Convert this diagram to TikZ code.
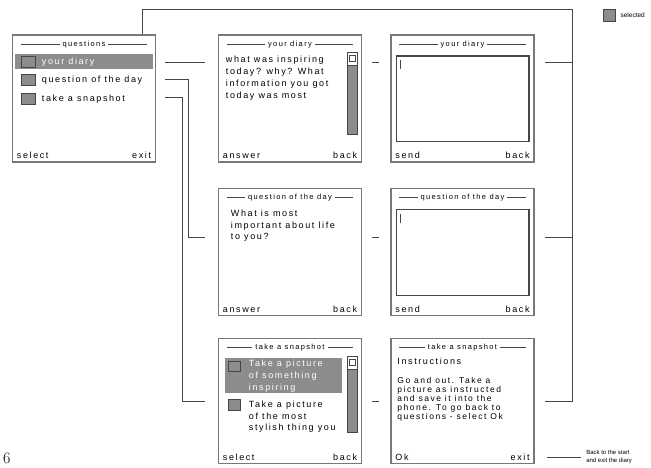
\documentclass[tikz,border=0pt]{standalone}
\usepackage{fontspec}
\newfontfamily\phonefont[LetterSpace=18]{Liberation Sans}
\newfontfamily\notefont{Liberation Sans}
\usetikzlibrary{positioning,calc}
\definecolor{scrframe}{RGB}{120,120,120}
\definecolor{scrfill}{RGB}{140,140,140}
\definecolor{scrline}{RGB}{70,70,70}

\begin{document}
\begin{tikzpicture}[x=1pt, y=-1pt,
  screen/.style={rectangle, draw=scrframe, line width=1.6pt, fill=white,
                 minimum width=143pt, minimum height=127pt, inner sep=0pt},
  ttl/.style={fill=white, inner xsep=3pt, inner ysep=1pt,
              font=\phonefont\fontsize{7.5}{8}\selectfont},
  body/.style={anchor=north west, align=left, inner sep=0pt,
               font=\phonefont\fontsize{9}{11.7}\selectfont},
  item/.style={anchor=west, inner sep=0pt, font=\phonefont\fontsize{9}{11}\selectfont},
  softkey/.style={inner sep=0pt, font=\phonefont\fontsize{9}{10}\selectfont},
  icon/.style={draw=scrline, fill=scrfill, line width=0.8pt},
  hibar/.style={fill=scrfill},
  field/.style={draw=scrline, line width=1.4pt},
  scrollbar/.style={draw=scrline, fill=scrfill, line width=0.8pt},
  link/.style={draw=scrline, line width=1pt}
]
\useasboundingbox (0,0) rectangle (651,468);

% Screens
\node[screen] (questions) at (84,98.5) {};
\node[screen] (diary)     at (290,98.5) {};
\node[screen] (diarysend) at (462.5,98.5) {};
\node[screen] (qday)      at (290,252) {};
\node[screen] (qdaysend)  at (462.5,252) {};
\node[screen, minimum height=125pt] (snap)     at (290,401) {};
\node[screen, minimum height=125pt] (snapinfo) at (462.5,401) {};

% Title rows and soft keys
\foreach \s/\t/\l/\r in {questions/questions/select/exit,
    diary/your diary/answer/back, diarysend/your diary/send/back,
    qday/question of the day/answer/back, qdaysend/question of the day/send/back,
    snap/take a snapshot/select/back, snapinfo/take a snapshot/Ok/exit}{
  \draw[link, line width=0.8pt] ($(\s.north west)+(9,10)$) -- ($(\s.north east)+(-9,10)$);
  \node[ttl] (\s-title) at ($(\s.north)+(0,10)$) {\t};
  \node[softkey, anchor=base west] (\s-left)  at ($(\s.south west)+(5,-4)$) {\l};
  \node[softkey, anchor=base east] (\s-right) at ($(\s.south east)+(-5,-4)$) {\r};
}

% questions menu
\begin{scope}
  \clip ($(questions.north west)+(1,1)$) rectangle ($(questions.south east)+(-1,-1)$);
  \fill[hibar] ($(questions.north west)+(3,20)$) rectangle ($(questions.north east)+(-3,35)$);
  \draw[icon] ($(questions.north west)+(10,22)$) rectangle ++(14,11);
  \node[item, text=white] (itemdiary) at ($(questions.north west)+(30,27.5)$) {your diary};
  \draw[icon] ($(questions.north west)+(10,40.5)$) rectangle ++(14,11);
  \node[item] (itemqday) at ($(questions.north west)+(30,46)$) {question of the day};
  \draw[icon] ($(questions.north west)+(10,59.5)$) rectangle ++(14,11);
  \node[item] (itemsnap) at ($(questions.north west)+(30,65)$) {take a snapshot};
\end{scope}

% your diary
\node[body] (diaryq) at ($(diary.north west)+(8,22)$)
  {what was inspiring\\today? why? What\\information you got\\today was most};
\draw[scrollbar] ($(diary.north east)+(-15,18)$) rectangle ($(diary.north east)+(-5,100)$);
\draw[scrline, fill=white, line width=0.8pt] ($(diary.north east)+(-15,18)$) rectangle ++(10,13);
\draw[scrline, line width=0.6pt] ($(diary.north east)+(-13,21)$) rectangle ++(6,6);

\draw[field] ($(diarysend.north west)+(6,22)$) rectangle ($(diarysend.south east)+(-6,-21)$);
\draw[scrline, line width=0.8pt] ($(diarysend.north west)+(10,26)$) -- ++(0,9);

% question of the day
\node[body] (qdayq) at ($(qday.north west)+(13,22)$)
  {What is most\\important about life\\to you?};

\draw[field] ($(qdaysend.north west)+(6,22)$) rectangle ($(qdaysend.south east)+(-6,-21)$);
\draw[scrline, line width=0.8pt] ($(qdaysend.north west)+(10,26)$) -- ++(0,9);

% take a snapshot
\fill[hibar] ($(snap.north west)+(7,20)$) rectangle ($(snap.north west)+(124,55)$);
\draw[icon] ($(snap.north west)+(11,24)$) rectangle ++(12,10);
\node[body, text=white] (snapone) at ($(snap.north west)+(31,22.5)$)
  {Take a picture\\of something\\inspiring};
\draw[icon] ($(snap.north west)+(11,62)$) rectangle ++(12,11);
\node[body] (snaptwo) at ($(snap.north west)+(31,63)$)
  {Take a picture\\of the most\\stylish thing you};
\draw[scrollbar] ($(snap.north east)+(-15,19)$) rectangle ($(snap.north east)+(-5,95)$);
\draw[scrline, fill=white, line width=0.8pt] ($(snap.north east)+(-15,19)$) rectangle ++(10,13);
\draw[scrline, line width=0.6pt] ($(snap.north east)+(-13,22)$) rectangle ++(6,6);

\node[body] (snaphead) at ($(snapinfo.north west)+(7,20)$) {Instructions};
\node[body, font=\phonefont\fontsize{8.5}{8.9}\selectfont] (snaptext)
  at ($(snapinfo.north west)+(7,39.5)$)
  {Go and out. Take a\\picture as instructed\\and save it into the\\phone. To go back to\\questions - select Ok};

% Connectors
\coordinate (diaryrow) at ($(questions.north east)+(0,28)$);
\coordinate (qdayrow)  at ($(questions.north east)+(0,45)$);
\coordinate (snaprow)  at ($(questions.north east)+(0,63)$);
\coordinate (qdayin)   at ($(qday.west)+(0,-15)$);
\coordinate (backbus)  at ($(diarysend.north east)+(38,-25)$);
\coordinate (backin)   at ($(questions.north east)+(-14,0)$);

\draw[link, shorten <=9pt, shorten >=13pt] (diaryrow) -- (diary.west |- diaryrow);
\draw[link, shorten <=9pt, shorten >=13pt] (qdayrow) -- ++(32,0) |- (qdayin);
\draw[link, shorten <=9pt, shorten >=13pt] (snaprow) -- ++(26,0) |- (snap.west);

\draw[link, shorten <=10pt, shorten >=11pt] (diary.east |- diaryrow) -- (diarysend.west |- diaryrow);
\draw[link, shorten <=10pt, shorten >=11pt] (qday.east |- qdayin) -- (qdaysend.west |- qdayin);
\draw[link, shorten <=10pt, shorten >=11pt] (snap.east) -- (snapinfo.west);

\draw[link, shorten <=10pt] (diarysend.east |- diaryrow) -- (backbus |- diaryrow);
\draw[link, shorten <=10pt] (qdaysend.east |- qdayin) -- (backbus |- qdayin);
\draw[link, shorten <=10pt] (snapinfo.east) -- (backbus |- snapinfo.east) -- (backbus) -| (backin);

\draw[link, shorten <=12pt] (snapinfo.east |- snapinfo-right) -- ++(46,0)
  node[right, xshift=5pt, inner sep=0pt, align=left,
       font=\notefont\fontsize{6}{7.5}\selectfont] (exitnote) {Back to the start\\and exit the diary};

% Legend
\node[icon, minimum size=12pt, inner sep=0pt] (legendkey) at (609,15) {};
\node[right=5pt of legendkey, inner sep=0pt, font=\notefont\fontsize{6.5}{7}\selectfont] (legendtext) {selected};

% page number
\node[anchor=base west, inner sep=0pt, font=\fontsize{16}{16}\selectfont] (pagenum) at (3,463) {6};
\end{tikzpicture}
\end{document}
